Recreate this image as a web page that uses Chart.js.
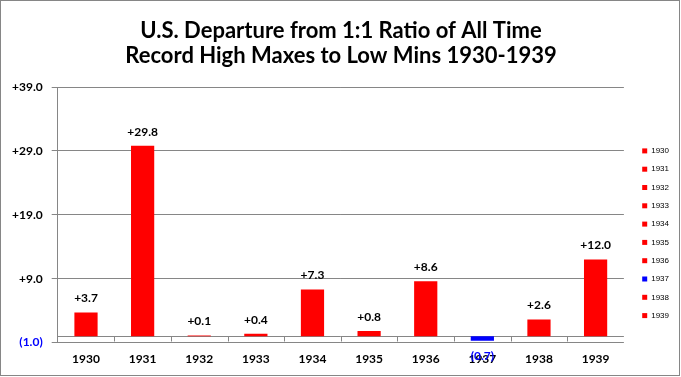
<!DOCTYPE html>
<html>
<head>
<meta charset="utf-8">
<script src="https://cdn.jsdelivr.net/npm/chart.js@4"></script>
<style>
  html, body { margin: 0; padding: 0; background: #fff; }
  #wrap { width: 681px; height: 377px; position: relative; }
</style>
</head>
<body>
<div id="wrap"><canvas id="myChart"></canvas></div>
<script>
'use strict'
// data
let years = ['1930', '1931', '1932', '1933', '1934', '1935', '1936', '1937', '1938', '1939'];
let departures = [3.7, 29.8, 0.1, 0.4, 7.3, 0.8, 8.6, -0.7, 2.6, 12.0];
let yTicks = [-1, 9, 19, 29, 39];
let titleLines = ['U.S. Departure from 1:1 Ratio of All Time', 'Record High Maxes to Low Mins 1930-1939'];

let red = '#ff0000';
let blue = '#0000ff';
let gridGray = '#868686';
let fontName = 'Lato';

let barColors = departures.map(v => v < 0 ? blue : red);

function fmt(v) {
  if (v < 0) return '(' + Math.abs(v).toFixed(1) + ')';
  return '+' + v.toFixed(1);
}

// white background + outer frame
const framePlugin = {
  id: 'frame',
  beforeDraw(chart) {
    let ctx = chart.ctx;
    ctx.save();
    ctx.fillStyle = '#fff';
    ctx.fillRect(0, 0, chart.width, chart.height);
    ctx.restore();
  },
  afterDraw(chart) {
    let ctx = chart.ctx;
    ctx.save();
    ctx.strokeStyle = gridGray;
    ctx.lineWidth = 1;
    ctx.strokeRect(0.5, 0.5, 679, 375);
    ctx.restore();
  }
};

// zero line with the little category ticks under it
const baseLinePlugin = {
  id: 'baseLine',
  beforeDatasetsDraw(chart) {
    let ctx = chart.ctx;
    let x = chart.scales.x;
    let y = chart.scales.y;
    let y0 = Math.round(y.getPixelForValue(0)) + 0.5;
    let half = (x.getPixelForValue(1) - x.getPixelForValue(0)) / 2;
    ctx.save();
    ctx.strokeStyle = gridGray;
    ctx.lineWidth = 1;
    ctx.beginPath();
    ctx.moveTo(chart.chartArea.left, y0);
    ctx.lineTo(chart.chartArea.right, y0);
    for (let i = 1; i < years.length; i++) {
      let px = Math.round(x.getPixelForValue(i) - half) + 0.5;
      ctx.moveTo(px, y0);
      ctx.lineTo(px, y0 + 5);
    }
    ctx.stroke();
    ctx.restore();
  }
};

// value labels over / under the bars
const valueLabels = {
  id: 'valueLabels',
  afterDatasetsDraw(chart) {
    let ctx = chart.ctx;
    let meta = chart.getDatasetMeta(0);
    ctx.save();
    ctx.font = 'bold 12px ' + fontName;
    ctx.textAlign = 'center';
    ctx.textBaseline = 'middle';
    meta.data.forEach((bar, i) => {
      let v = departures[i];
      if (v < 0) {
        ctx.fillStyle = blue;
        ctx.fillText(fmt(v), bar.x, bar.y + 15);
      } else {
        ctx.fillStyle = '#000';
        ctx.fillText(fmt(v), bar.x, bar.y - 14);
      }
    });
    ctx.restore();
  }
};

const data = {
  labels: years,
  datasets: [{
    label: 'Departure',
    data: departures,
    backgroundColor: barColors,
    borderWidth: 0,
    barPercentage: 0.41,
    categoryPercentage: 1
  }]
};

const config = {
  type: 'bar',
  data: data,
  plugins: [framePlugin, baseLinePlugin, valueLabels],
  options: {
    responsive: true,
    maintainAspectRatio: false,
    animation: false,
    layout: { padding: { left: 3, right: 2, top: 0, bottom: 2 } },
    plugins: {
      title: {
        display: true,
        text: titleLines,
        color: '#000',
        font: { family: fontName, size: 22, weight: 'bold', lineHeight: 1.16 },
        padding: { top: 18, bottom: 18 }
      },
      legend: {
        position: 'right',
        align: 'start',
        onClick: null,
        title: { display: true, text: '', font: { size: 8 }, padding: { top: 127, bottom: 0 } },
        labels: {
          boxWidth: 5,
          boxHeight: 5,
          padding: 10.3,
          color: '#000',
          font: { family: 'Liberation Sans', size: 8 },
          generateLabels: () => years.map((yr, i) => ({
            text: yr,
            fillStyle: barColors[i],
            strokeStyle: barColors[i],
            fontColor: '#000',
            lineWidth: 0,
            hidden: false,
            index: i
          }))
        }
      },
      tooltip: { enabled: false }
    },
    scales: {
      x: {
        grid: { display: false, drawTicks: false },
        border: { display: false },
        ticks: {
          color: '#000',
          padding: 9,
          font: { family: fontName, size: 12, weight: 'bold' }
        }
      },
      y: {
        min: -1,
        max: 39,
        afterBuildTicks: scale => { scale.ticks = yTicks.map(v => ({ value: v })); },
        grid: { color: gridGray, tickLength: 6, tickColor: gridGray },
        border: { display: true, color: gridGray },
        ticks: {
          padding: 9,
          font: { family: fontName, size: 12, weight: 'bold' },
          color: ctx => ctx.tick && ctx.tick.value < 0 ? blue : '#000',
          callback: v => fmt(v)
        }
      },
      // empty strip between plot and legend
      gap: {
        position: 'right',
        grid: { display: false },
        border: { display: false },
        ticks: { display: false },
        afterFit: scale => { scale.width = 8; }
      }
    }
  }
};

var myChart = new Chart(document.getElementById('myChart'), config);
</script>
</body>
</html>
